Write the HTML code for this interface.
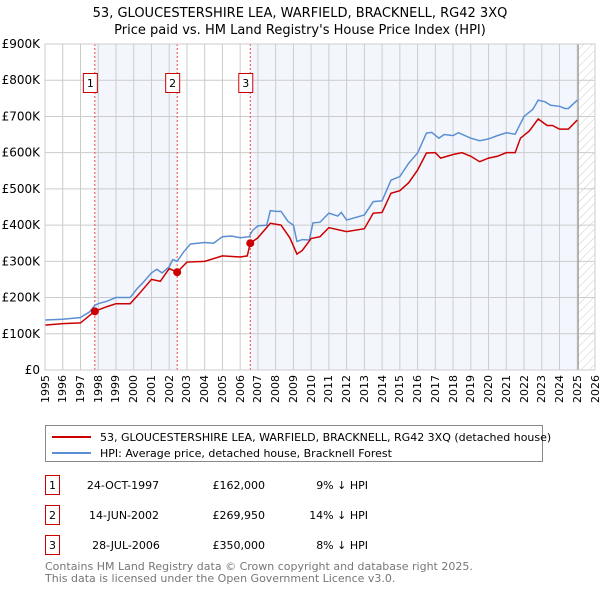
<!DOCTYPE html>
<html><head><meta charset="utf-8"><style>
body{margin:0;background:#fff;font-family:"DejaVu Sans","Liberation Sans",sans-serif;}
#wrap{position:relative;width:600px;height:590px;overflow:hidden;}
svg text{font-family:"DejaVu Sans","Liberation Sans",sans-serif;}
.xl{position:absolute;top:375px;font-size:11px;line-height:13px;writing-mode:vertical-rl;transform:rotate(180deg);white-space:nowrap;color:#000;}
</style></head><body>
<div id="wrap">
<svg id="chart" width="600" height="590" xmlns="http://www.w3.org/2000/svg" style="position:absolute;left:0;top:0">
<defs><pattern id="hatch" width="6" height="6" patternUnits="userSpaceOnUse" patternTransform="rotate(45)"><line x1="0" y1="0" x2="0" y2="6" stroke="#ccc" stroke-width="1"/></pattern></defs>
<text x="300" y="17" text-anchor="middle" font-size="13">53, GLOUCESTERSHIRE LEA, WARFIELD, BRACKNELL, RG42 3XQ</text>
<text x="300" y="34" text-anchor="middle" font-size="13">Price paid vs. HM Land Registry's House Price Index (HPI)</text>
<g id="plot"></g>
<g>
<rect x="45.5" y="425.5" width="497" height="36" fill="#fff" stroke="#888"/>
<line x1="52" y1="437" x2="91" y2="437" stroke="#cc0000" stroke-width="2"/>
<text x="100" y="441" font-size="11">53, GLOUCESTERSHIRE LEA, WARFIELD, BRACKNELL, RG42 3XQ (detached house)</text>
<line x1="52" y1="453" x2="91" y2="453" stroke="#5b8fd4" stroke-width="2"/>
<text x="100" y="457" font-size="11">HPI: Average price, detached house, Bracknell Forest</text>
</g>
<g font-size="11">
<rect x="45.5" y="475.5" width="14" height="19" fill="#fff" stroke="#cc0000"/><text x="52.5" y="489" text-anchor="middle">1</text>
<text x="123" y="489" text-anchor="middle">24-OCT-1997</text><text x="265" y="489" text-anchor="end">£162,000</text><text x="368" y="489" text-anchor="end">9% ↓ HPI</text>
<rect x="45.5" y="505.5" width="14" height="19" fill="#fff" stroke="#cc0000"/><text x="52.5" y="519" text-anchor="middle">2</text>
<text x="124" y="519" text-anchor="middle">14-JUN-2002</text><text x="265" y="519" text-anchor="end">£269,950</text><text x="368" y="519" text-anchor="end">14% ↓ HPI</text>
<rect x="45.5" y="535.5" width="14" height="19" fill="#fff" stroke="#cc0000"/><text x="52.5" y="549" text-anchor="middle">3</text>
<text x="126" y="549" text-anchor="middle">28-JUL-2006</text><text x="265" y="549" text-anchor="end">£350,000</text><text x="368" y="549" text-anchor="end">8% ↓ HPI</text>
</g>
<text x="45" y="570" font-size="11" fill="#777">Contains HM Land Registry data © Crown copyright and database right 2025.</text>
<text x="45" y="582" font-size="11" fill="#777">This data is licensed under the Open Government Licence v3.0.</text>
</svg>
</div>
<script>
const hpiYears=[1995,1996,1997,1997.5,1997.8,1998,1998.5,1999,1999.8,2000.2,2000.5,2001,2001.3,2001.6,2002,2002.2,2002.45,2002.8,2003.2,2004,2004.5,2005,2005.5,2006,2006.5,2006.7,2007,2007.5,2007.7,2008,2008.3,2008.7,2009,2009.2,2009.5,2009.9,2010.1,2010.5,2011,2011.5,2011.7,2012,2013,2013.5,2014,2014.5,2015,2015.5,2016,2016.5,2016.8,2017.2,2017.5,2018,2018.3,2019,2019.5,2020,2020.5,2021,2021.5,2022,2022.5,2022.8,2023.2,2023.5,2024,2024.3,2024.5,2025];
const hpiValues=[138,140,145,160,178,183,190,200,200,225,240,268,278,268,285,305,300,325,348,352,350,368,370,365,368,385,398,400,440,438,438,410,400,355,360,359,406,408,433,425,435,414,428,465,467,524,534,571,599,654,656,640,650,647,655,640,633,638,647,655,651,700,720,745,740,731,728,722,722,745];
const paidYears=[1995,1996,1997,1997.5,1997.8,1998.5,1999,1999.8,2000.3,2001,2001.5,2002,2002.45,2003,2004,2005,2006,2006.4,2006.57,2007,2007.7,2008.3,2008.8,2009.2,2009.5,2010,2010.5,2011,2012,2013,2013.5,2014,2014.5,2015,2015.5,2016,2016.5,2017,2017.3,2018,2018.5,2019,2019.5,2020,2020.5,2021,2021.5,2021.8,2022.3,2022.8,2023.3,2023.6,2024,2024.5,2025];
const paidValues=[124,128,130,150,162,175,183,183,210,250,245,280,270,298,300,315,312,315,350,365,405,400,365,320,330,363,368,393,382,390,433,435,488,495,517,552,599,600,585,595,600,590,575,585,590,600,600,640,660,693,675,675,665,665,690];
const saleYears=[1997.81,2002.45,2006.57];
const saleValues=[162,269.95,350];
const yTicks=[0,100,200,300,400,500,600,700,800,900];
const yTickLabels=['£0','£100K','£200K','£300K','£400K','£500K','£600K','£700K','£800K','£900K'];
const xTicks=[1995,1996,1997,1998,1999,2000,2001,2002,2003,2004,2005,2006,2007,2008,2009,2010,2011,2012,2013,2014,2015,2016,2017,2018,2019,2020,2021,2022,2023,2024,2025,2026];

const X0=45,X1=595,Y0=370,Y1=44;
const xs=y=>X0+(y-1995)/31*(X1-X0);
const ys=v=>Y0-v/900*(Y0-Y1);
const NS='http://www.w3.org/2000/svg';
const g=document.getElementById('plot');
const wrap=document.getElementById('wrap');
function mk(t,a){const e=document.createElementNS(NS,t);for(const k in a)e.setAttribute(k,a[k]);g.appendChild(e);return e;}
let e;
e=mk('rect',{x:xs(saleYears[0]),y:Y1,width:xs(saleYears[1])-xs(saleYears[0]),height:Y0-Y1,fill:'#eef3fc',opacity:0.7});


e=mk('rect',{x:xs(saleYears[2]),y:Y1,width:xs(2025.05)-xs(saleYears[2]),height:Y0-Y1,fill:'#eef3fc',opacity:0.7});


e=mk('rect',{x:xs(2025.05),y:Y1,width:X1-xs(2025.05),height:Y0-Y1,fill:'url(#hatch)'});


xTicks.forEach((t,i)=>{
 const l=mk('line',{x1:xs(t),x2:xs(t),y1:Y1,y2:Y0,stroke:'#ccc','stroke-width':1});
 
 
 const d=document.createElement('div');
 d.className='xl';
 d.style.left=(xs(t)-6.5)+'px';
 d.textContent=t;
 
 
 wrap.appendChild(d);
});
yTicks.forEach((t,i)=>{
 const l=mk('line',{x1:X0,x2:X1,y1:ys(t),y2:ys(t),stroke:'#ccc','stroke-width':1});
 
 
 const tx=mk('text',{x:40,y:ys(t)+4,'font-size':12,'text-anchor':'end'});
 tx.textContent=yTickLabels[i];
 
 
});
e=mk('line',{x1:xs(2025.05),x2:xs(2025.05),y1:Y1,y2:Y0,stroke:'#888','stroke-width':1});


saleYears.forEach((s,i)=>{
 const l=mk('line',{x1:xs(s),x2:xs(s),y1:Y1,y2:Y0,stroke:'#ee4444','stroke-width':1,'stroke-dasharray':'2,2'});
 
 
 const r=mk('rect',{x:xs(s)-11.5,y:73.5,width:14,height:19,fill:'#fff',stroke:'#cc0000'});
 
 
 const t=mk('text',{x:xs(s)-4.5,y:87,'font-size':11,'text-anchor':'middle'});
 t.textContent=i+1;
 
 
});
e=mk('polyline',{points:hpiYears.map((y,i)=>xs(y)+','+ys(hpiValues[i])).join(' '),fill:'none',stroke:'#5b8fd4','stroke-width':1.5});


e=mk('polyline',{points:paidYears.map((y,i)=>xs(y)+','+ys(paidValues[i])).join(' '),fill:'none',stroke:'#cc0000','stroke-width':1.5});


saleYears.forEach((s,i)=>{
 const c=mk('circle',{cx:xs(s),cy:ys(saleValues[i]),r:4,fill:'#cc0000'});
 
 
});
e=mk('rect',{x:X0,y:Y1,width:X1-X0,height:Y0-Y1,fill:'none',stroke:'#ccc'});


</script>
</body></html>
